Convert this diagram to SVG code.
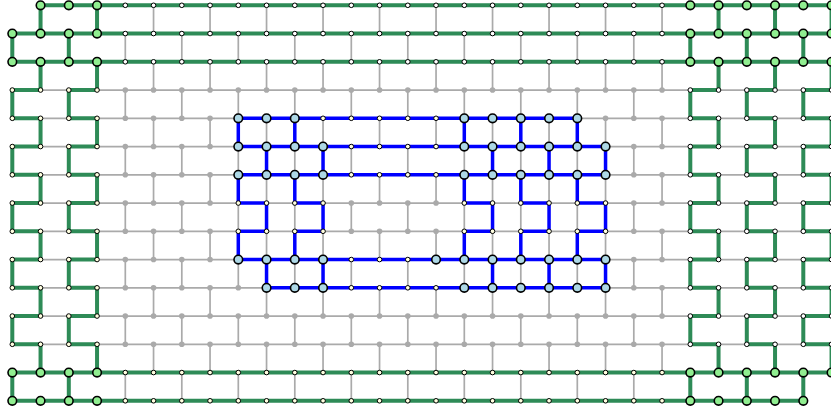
<svg xmlns="http://www.w3.org/2000/svg" width="831" height="415" viewBox="0 0 831 415">
<style>
.gh{fill:none;stroke:#aaaaaa;stroke-width:1.7}
.gv{stroke:#aaaaaa;stroke-width:1.7;stroke-dasharray:28.25}
.eh{fill:none;stroke:#2e8b57;stroke-width:4}
.ev{stroke:#2e8b57;stroke-width:4;stroke-dasharray:28.25}
.bh{fill:none;stroke:#0000ff;stroke-width:3.5}
.bv{stroke:#0000ff;stroke-width:3.5;stroke-dasharray:28.25}
</style>
<defs>
<circle id="W" r="2.3" fill="#ffffff" stroke="#000" stroke-width="1"/>
<circle id="C" r="2.3" fill="#ffffe0" stroke="#000" stroke-width="1"/>
<circle id="D" r="2.8" fill="#aaaaaa"/>
<circle id="G" r="4.3" fill="#90ee90" stroke="#000" stroke-width="1.6"/>
<circle id="B" r="4.3" fill="#add8e6" stroke="#000" stroke-width="1.6"/>
</defs>
<rect width="831" height="415" fill="#fff"/>
<g id="connectors">
<path class="gh" d="M12.3 90.05H831.55M12.3 118.3H831.55M12.3 146.55H831.55M12.3 174.8H831.55M12.3 203.05H831.55M12.3 231.3H831.55M12.3 259.55H831.55M12.3 287.8H831.55M12.3 316.05H831.55M12.3 344.3H831.55"/>
<line class="gv" x1="40.55" y1="5.3" x2="40.55" y2="400.8"/>
<line class="gv" x1="97.05" y1="5.3" x2="97.05" y2="400.8"/>
<line class="gv" x1="153.55" y1="5.3" x2="153.55" y2="400.8"/>
<line class="gv" x1="210.05" y1="5.3" x2="210.05" y2="400.8"/>
<line class="gv" x1="266.55" y1="5.3" x2="266.55" y2="400.8"/>
<line class="gv" x1="323.05" y1="5.3" x2="323.05" y2="400.8"/>
<line class="gv" x1="379.55" y1="5.3" x2="379.55" y2="400.8"/>
<line class="gv" x1="436.05" y1="5.3" x2="436.05" y2="400.8"/>
<line class="gv" x1="492.55" y1="5.3" x2="492.55" y2="400.8"/>
<line class="gv" x1="549.05" y1="5.3" x2="549.05" y2="400.8"/>
<line class="gv" x1="605.55" y1="5.3" x2="605.55" y2="400.8"/>
<line class="gv" x1="662.05" y1="5.3" x2="662.05" y2="400.8"/>
<line class="gv" x1="718.55" y1="5.3" x2="718.55" y2="400.8"/>
<line class="gv" x1="775.05" y1="5.3" x2="775.05" y2="400.8"/>
<line class="gv" x1="831.55" y1="5.3" x2="831.55" y2="400.8"/>
<line class="gv" x1="12.3" y1="33.55" x2="12.3" y2="400.8"/>
<line class="gv" x1="68.8" y1="33.55" x2="68.8" y2="400.8"/>
<line class="gv" x1="125.3" y1="33.55" x2="125.3" y2="400.8"/>
<line class="gv" x1="181.8" y1="33.55" x2="181.8" y2="400.8"/>
<line class="gv" x1="238.3" y1="33.55" x2="238.3" y2="400.8"/>
<line class="gv" x1="294.8" y1="33.55" x2="294.8" y2="400.8"/>
<line class="gv" x1="351.3" y1="33.55" x2="351.3" y2="400.8"/>
<line class="gv" x1="407.8" y1="33.55" x2="407.8" y2="400.8"/>
<line class="gv" x1="464.3" y1="33.55" x2="464.3" y2="400.8"/>
<line class="gv" x1="520.8" y1="33.55" x2="520.8" y2="400.8"/>
<line class="gv" x1="577.3" y1="33.55" x2="577.3" y2="400.8"/>
<line class="gv" x1="633.8" y1="33.55" x2="633.8" y2="400.8"/>
<line class="gv" x1="690.3" y1="33.55" x2="690.3" y2="400.8"/>
<line class="gv" x1="746.8" y1="33.55" x2="746.8" y2="400.8"/>
<line class="gv" x1="803.3" y1="33.55" x2="803.3" y2="400.8"/>
<path class="eh" d="M40.55 5.3H831.55M12.3 33.55H831.55M12.3 61.8H831.55M12.3 372.55H831.55M12.3 400.8H803.3
M12.3 90.05H40.55M68.8 90.05H97.05M690.3 90.05H718.55M746.8 90.05H775.05M803.3 90.05H831.55
M12.3 118.3H40.55M68.8 118.3H97.05M690.3 118.3H718.55M746.8 118.3H775.05M803.3 118.3H831.55
M12.3 146.55H40.55M68.8 146.55H97.05M690.3 146.55H718.55M746.8 146.55H775.05M803.3 146.55H831.55
M12.3 174.8H40.55M68.8 174.8H97.05M690.3 174.8H718.55M746.8 174.8H775.05M803.3 174.8H831.55
M12.3 203.05H40.55M68.8 203.05H97.05M690.3 203.05H718.55M746.8 203.05H775.05M803.3 203.05H831.55
M12.3 231.3H40.55M68.8 231.3H97.05M690.3 231.3H718.55M746.8 231.3H775.05M803.3 231.3H831.55
M12.3 259.55H40.55M68.8 259.55H97.05M690.3 259.55H718.55M746.8 259.55H775.05M803.3 259.55H831.55
M12.3 287.8H40.55M68.8 287.8H97.05M690.3 287.8H718.55M746.8 287.8H775.05M803.3 287.8H831.55
M12.3 316.05H40.55M68.8 316.05H97.05M690.3 316.05H718.55M746.8 316.05H775.05M803.3 316.05H831.55
M12.3 344.3H40.55M68.8 344.3H97.05M690.3 344.3H718.55M746.8 344.3H775.05M803.3 344.3H831.55"/>
<line class="ev" x1="40.55" y1="5.3" x2="40.55" y2="400.8"/>
<line class="ev" x1="97.05" y1="5.3" x2="97.05" y2="400.8"/>
<line class="ev" x1="718.55" y1="5.3" x2="718.55" y2="400.8"/>
<line class="ev" x1="775.05" y1="5.3" x2="775.05" y2="400.8"/>
<line class="ev" x1="831.55" y1="5.3" x2="831.55" y2="400.8"/>
<line class="ev" x1="12.3" y1="33.55" x2="12.3" y2="400.8"/>
<line class="ev" x1="68.8" y1="33.55" x2="68.8" y2="400.8"/>
<line class="ev" x1="690.3" y1="33.55" x2="690.3" y2="400.8"/>
<line class="ev" x1="746.8" y1="33.55" x2="746.8" y2="400.8"/>
<line class="ev" x1="803.3" y1="33.55" x2="803.3" y2="400.8"/>
<path class="bh" d="M238.3 118.3H577.3M238.3 146.55H605.55M238.3 174.8H605.55M238.3 259.55H605.55M266.55 287.8H605.55
M238.3 203.05H266.55M294.8 203.05H323.05M464.3 203.05H492.55M520.8 203.05H549.05M577.3 203.05H605.55
M238.3 231.3H266.55M294.8 231.3H323.05M464.3 231.3H492.55M520.8 231.3H549.05M577.3 231.3H605.55"/>
<line class="bv" x1="238.3" y1="118.3" x2="238.3" y2="259.55"/>
<line class="bv" x1="294.8" y1="118.3" x2="294.8" y2="259.55"/>
<line class="bv" x1="464.3" y1="118.3" x2="464.3" y2="259.55"/>
<line class="bv" x1="520.8" y1="118.3" x2="520.8" y2="259.55"/>
<line class="bv" x1="577.3" y1="118.3" x2="577.3" y2="259.55"/>
<line class="bv" x1="266.55" y1="146.55" x2="266.55" y2="287.8"/>
<line class="bv" x1="323.05" y1="146.55" x2="323.05" y2="287.8"/>
<line class="bv" x1="492.55" y1="146.55" x2="492.55" y2="287.8"/>
<line class="bv" x1="549.05" y1="146.55" x2="549.05" y2="287.8"/>
<line class="bv" x1="605.55" y1="146.55" x2="605.55" y2="287.8"/>
</g>
<g id="nodes">
<g id="n0-1"><use href="#G" x="40.55" y="5.3"/></g>
<g id="n0-2"><use href="#G" x="68.8" y="5.3"/></g>
<g id="n0-3"><use href="#G" x="97.05" y="5.3"/></g>
<g id="n0-4"><use href="#W" x="125.3" y="5.3"/></g>
<g id="n0-5"><use href="#W" x="153.55" y="5.3"/></g>
<g id="n0-6"><use href="#W" x="181.8" y="5.3"/></g>
<g id="n0-7"><use href="#W" x="210.05" y="5.3"/></g>
<g id="n0-8"><use href="#W" x="238.3" y="5.3"/></g>
<g id="n0-9"><use href="#W" x="266.55" y="5.3"/></g>
<g id="n0-10"><use href="#W" x="294.8" y="5.3"/></g>
<g id="n0-11"><use href="#W" x="323.05" y="5.3"/></g>
<g id="n0-12"><use href="#W" x="351.3" y="5.3"/></g>
<g id="n0-13"><use href="#W" x="379.55" y="5.3"/></g>
<g id="n0-14"><use href="#W" x="407.8" y="5.3"/></g>
<g id="n0-15"><use href="#W" x="436.05" y="5.3"/></g>
<g id="n0-16"><use href="#W" x="464.3" y="5.3"/></g>
<g id="n0-17"><use href="#W" x="492.55" y="5.3"/></g>
<g id="n0-18"><use href="#W" x="520.8" y="5.3"/></g>
<g id="n0-19"><use href="#W" x="549.05" y="5.3"/></g>
<g id="n0-20"><use href="#W" x="577.3" y="5.3"/></g>
<g id="n0-21"><use href="#W" x="605.55" y="5.3"/></g>
<g id="n0-22"><use href="#W" x="633.8" y="5.3"/></g>
<g id="n0-23"><use href="#W" x="662.05" y="5.3"/></g>
<g id="n0-24"><use href="#G" x="690.3" y="5.3"/></g>
<g id="n0-25"><use href="#G" x="718.55" y="5.3"/></g>
<g id="n0-26"><use href="#G" x="746.8" y="5.3"/></g>
<g id="n0-27"><use href="#G" x="775.05" y="5.3"/></g>
<g id="n0-28"><use href="#G" x="803.3" y="5.3"/></g>
<g id="n0-29"><use href="#G" x="831.55" y="5.3"/></g>
<g id="n1-0"><use href="#G" x="12.3" y="33.55"/></g>
<g id="n1-1"><use href="#G" x="40.55" y="33.55"/></g>
<g id="n1-2"><use href="#G" x="68.8" y="33.55"/></g>
<g id="n1-3"><use href="#G" x="97.05" y="33.55"/></g>
<g id="n1-4"><use href="#W" x="125.3" y="33.55"/></g>
<g id="n1-5"><use href="#W" x="153.55" y="33.55"/></g>
<g id="n1-6"><use href="#W" x="181.8" y="33.55"/></g>
<g id="n1-7"><use href="#W" x="210.05" y="33.55"/></g>
<g id="n1-8"><use href="#W" x="238.3" y="33.55"/></g>
<g id="n1-9"><use href="#W" x="266.55" y="33.55"/></g>
<g id="n1-10"><use href="#W" x="294.8" y="33.55"/></g>
<g id="n1-11"><use href="#W" x="323.05" y="33.55"/></g>
<g id="n1-12"><use href="#W" x="351.3" y="33.55"/></g>
<g id="n1-13"><use href="#W" x="379.55" y="33.55"/></g>
<g id="n1-14"><use href="#W" x="407.8" y="33.55"/></g>
<g id="n1-15"><use href="#W" x="436.05" y="33.55"/></g>
<g id="n1-16"><use href="#W" x="464.3" y="33.55"/></g>
<g id="n1-17"><use href="#W" x="492.55" y="33.55"/></g>
<g id="n1-18"><use href="#W" x="520.8" y="33.55"/></g>
<g id="n1-19"><use href="#W" x="549.05" y="33.55"/></g>
<g id="n1-20"><use href="#W" x="577.3" y="33.55"/></g>
<g id="n1-21"><use href="#W" x="605.55" y="33.55"/></g>
<g id="n1-22"><use href="#W" x="633.8" y="33.55"/></g>
<g id="n1-23"><use href="#W" x="662.05" y="33.55"/></g>
<g id="n1-24"><use href="#G" x="690.3" y="33.55"/></g>
<g id="n1-25"><use href="#G" x="718.55" y="33.55"/></g>
<g id="n1-26"><use href="#G" x="746.8" y="33.55"/></g>
<g id="n1-27"><use href="#G" x="775.05" y="33.55"/></g>
<g id="n1-28"><use href="#G" x="803.3" y="33.55"/></g>
<g id="n1-29"><use href="#G" x="831.55" y="33.55"/></g>
<g id="n2-0"><use href="#G" x="12.3" y="61.8"/></g>
<g id="n2-1"><use href="#G" x="40.55" y="61.8"/></g>
<g id="n2-2"><use href="#G" x="68.8" y="61.8"/></g>
<g id="n2-3"><use href="#G" x="97.05" y="61.8"/></g>
<g id="n2-4"><use href="#W" x="125.3" y="61.8"/></g>
<g id="n2-5"><use href="#W" x="153.55" y="61.8"/></g>
<g id="n2-6"><use href="#W" x="181.8" y="61.8"/></g>
<g id="n2-7"><use href="#W" x="210.05" y="61.8"/></g>
<g id="n2-8"><use href="#W" x="238.3" y="61.8"/></g>
<g id="n2-9"><use href="#W" x="266.55" y="61.8"/></g>
<g id="n2-10"><use href="#W" x="294.8" y="61.8"/></g>
<g id="n2-11"><use href="#W" x="323.05" y="61.8"/></g>
<g id="n2-12"><use href="#W" x="351.3" y="61.8"/></g>
<g id="n2-13"><use href="#W" x="379.55" y="61.8"/></g>
<g id="n2-14"><use href="#W" x="407.8" y="61.8"/></g>
<g id="n2-15"><use href="#W" x="436.05" y="61.8"/></g>
<g id="n2-16"><use href="#W" x="464.3" y="61.8"/></g>
<g id="n2-17"><use href="#W" x="492.55" y="61.8"/></g>
<g id="n2-18"><use href="#W" x="520.8" y="61.8"/></g>
<g id="n2-19"><use href="#W" x="549.05" y="61.8"/></g>
<g id="n2-20"><use href="#W" x="577.3" y="61.8"/></g>
<g id="n2-21"><use href="#W" x="605.55" y="61.8"/></g>
<g id="n2-22"><use href="#W" x="633.8" y="61.8"/></g>
<g id="n2-23"><use href="#W" x="662.05" y="61.8"/></g>
<g id="n2-24"><use href="#G" x="690.3" y="61.8"/></g>
<g id="n2-25"><use href="#G" x="718.55" y="61.8"/></g>
<g id="n2-26"><use href="#G" x="746.8" y="61.8"/></g>
<g id="n2-27"><use href="#G" x="775.05" y="61.8"/></g>
<g id="n2-28"><use href="#G" x="803.3" y="61.8"/></g>
<g id="n2-29"><use href="#G" x="831.55" y="61.8"/></g>
<g id="n3-0"><use href="#C" x="12.3" y="90.05"/></g>
<g id="n3-1"><use href="#C" x="40.55" y="90.05"/></g>
<g id="n3-2"><use href="#C" x="68.8" y="90.05"/></g>
<g id="n3-3"><use href="#C" x="97.05" y="90.05"/></g>
<g id="n3-4"><use href="#D" x="125.3" y="90.05"/></g>
<g id="n3-5"><use href="#D" x="153.55" y="90.05"/></g>
<g id="n3-6"><use href="#D" x="181.8" y="90.05"/></g>
<g id="n3-7"><use href="#D" x="210.05" y="90.05"/></g>
<g id="n3-8"><use href="#D" x="238.3" y="90.05"/></g>
<g id="n3-9"><use href="#D" x="266.55" y="90.05"/></g>
<g id="n3-10"><use href="#D" x="294.8" y="90.05"/></g>
<g id="n3-11"><use href="#D" x="323.05" y="90.05"/></g>
<g id="n3-12"><use href="#D" x="351.3" y="90.05"/></g>
<g id="n3-13"><use href="#D" x="379.55" y="90.05"/></g>
<g id="n3-14"><use href="#D" x="407.8" y="90.05"/></g>
<g id="n3-15"><use href="#D" x="436.05" y="90.05"/></g>
<g id="n3-16"><use href="#D" x="464.3" y="90.05"/></g>
<g id="n3-17"><use href="#D" x="492.55" y="90.05"/></g>
<g id="n3-18"><use href="#D" x="520.8" y="90.05"/></g>
<g id="n3-19"><use href="#D" x="549.05" y="90.05"/></g>
<g id="n3-20"><use href="#D" x="577.3" y="90.05"/></g>
<g id="n3-21"><use href="#D" x="605.55" y="90.05"/></g>
<g id="n3-22"><use href="#D" x="633.8" y="90.05"/></g>
<g id="n3-23"><use href="#D" x="662.05" y="90.05"/></g>
<g id="n3-24"><use href="#W" x="690.3" y="90.05"/></g>
<g id="n3-25"><use href="#W" x="718.55" y="90.05"/></g>
<g id="n3-26"><use href="#W" x="746.8" y="90.05"/></g>
<g id="n3-27"><use href="#W" x="775.05" y="90.05"/></g>
<g id="n3-28"><use href="#W" x="803.3" y="90.05"/></g>
<g id="n3-29"><use href="#W" x="831.55" y="90.05"/></g>
<g id="n4-0"><use href="#C" x="12.3" y="118.3"/></g>
<g id="n4-1"><use href="#C" x="40.55" y="118.3"/></g>
<g id="n4-2"><use href="#C" x="68.8" y="118.3"/></g>
<g id="n4-3"><use href="#C" x="97.05" y="118.3"/></g>
<g id="n4-4"><use href="#D" x="125.3" y="118.3"/></g>
<g id="n4-5"><use href="#D" x="153.55" y="118.3"/></g>
<g id="n4-6"><use href="#D" x="181.8" y="118.3"/></g>
<g id="n4-7"><use href="#D" x="210.05" y="118.3"/></g>
<g id="n4-8"><use href="#B" x="238.3" y="118.3"/></g>
<g id="n4-9"><use href="#B" x="266.55" y="118.3"/></g>
<g id="n4-10"><use href="#B" x="294.8" y="118.3"/></g>
<g id="n4-11"><use href="#C" x="323.05" y="118.3"/></g>
<g id="n4-12"><use href="#C" x="351.3" y="118.3"/></g>
<g id="n4-13"><use href="#C" x="379.55" y="118.3"/></g>
<g id="n4-14"><use href="#C" x="407.8" y="118.3"/></g>
<g id="n4-15"><use href="#C" x="436.05" y="118.3"/></g>
<g id="n4-16"><use href="#B" x="464.3" y="118.3"/></g>
<g id="n4-17"><use href="#B" x="492.55" y="118.3"/></g>
<g id="n4-18"><use href="#B" x="520.8" y="118.3"/></g>
<g id="n4-19"><use href="#B" x="549.05" y="118.3"/></g>
<g id="n4-20"><use href="#B" x="577.3" y="118.3"/></g>
<g id="n4-21"><use href="#D" x="605.55" y="118.3"/></g>
<g id="n4-22"><use href="#D" x="633.8" y="118.3"/></g>
<g id="n4-23"><use href="#D" x="662.05" y="118.3"/></g>
<g id="n4-24"><use href="#W" x="690.3" y="118.3"/></g>
<g id="n4-25"><use href="#W" x="718.55" y="118.3"/></g>
<g id="n4-26"><use href="#W" x="746.8" y="118.3"/></g>
<g id="n4-27"><use href="#W" x="775.05" y="118.3"/></g>
<g id="n4-28"><use href="#W" x="803.3" y="118.3"/></g>
<g id="n4-29"><use href="#W" x="831.55" y="118.3"/></g>
<g id="n5-0"><use href="#C" x="12.3" y="146.55"/></g>
<g id="n5-1"><use href="#C" x="40.55" y="146.55"/></g>
<g id="n5-2"><use href="#C" x="68.8" y="146.55"/></g>
<g id="n5-3"><use href="#C" x="97.05" y="146.55"/></g>
<g id="n5-4"><use href="#D" x="125.3" y="146.55"/></g>
<g id="n5-5"><use href="#D" x="153.55" y="146.55"/></g>
<g id="n5-6"><use href="#D" x="181.8" y="146.55"/></g>
<g id="n5-7"><use href="#D" x="210.05" y="146.55"/></g>
<g id="n5-8"><use href="#B" x="238.3" y="146.55"/></g>
<g id="n5-9"><use href="#B" x="266.55" y="146.55"/></g>
<g id="n5-10"><use href="#B" x="294.8" y="146.55"/></g>
<g id="n5-11"><use href="#B" x="323.05" y="146.55"/></g>
<g id="n5-12"><use href="#C" x="351.3" y="146.55"/></g>
<g id="n5-13"><use href="#C" x="379.55" y="146.55"/></g>
<g id="n5-14"><use href="#C" x="407.8" y="146.55"/></g>
<g id="n5-15"><use href="#C" x="436.05" y="146.55"/></g>
<g id="n5-16"><use href="#B" x="464.3" y="146.55"/></g>
<g id="n5-17"><use href="#B" x="492.55" y="146.55"/></g>
<g id="n5-18"><use href="#B" x="520.8" y="146.55"/></g>
<g id="n5-19"><use href="#B" x="549.05" y="146.55"/></g>
<g id="n5-20"><use href="#B" x="577.3" y="146.55"/></g>
<g id="n5-21"><use href="#B" x="605.55" y="146.55"/></g>
<g id="n5-22"><use href="#D" x="633.8" y="146.55"/></g>
<g id="n5-23"><use href="#D" x="662.05" y="146.55"/></g>
<g id="n5-24"><use href="#W" x="690.3" y="146.55"/></g>
<g id="n5-25"><use href="#W" x="718.55" y="146.55"/></g>
<g id="n5-26"><use href="#W" x="746.8" y="146.55"/></g>
<g id="n5-27"><use href="#W" x="775.05" y="146.55"/></g>
<g id="n5-28"><use href="#W" x="803.3" y="146.55"/></g>
<g id="n5-29"><use href="#W" x="831.55" y="146.55"/></g>
<g id="n6-0"><use href="#C" x="12.3" y="174.8"/></g>
<g id="n6-1"><use href="#C" x="40.55" y="174.8"/></g>
<g id="n6-2"><use href="#C" x="68.8" y="174.8"/></g>
<g id="n6-3"><use href="#C" x="97.05" y="174.8"/></g>
<g id="n6-4"><use href="#D" x="125.3" y="174.8"/></g>
<g id="n6-5"><use href="#D" x="153.55" y="174.8"/></g>
<g id="n6-6"><use href="#D" x="181.8" y="174.8"/></g>
<g id="n6-7"><use href="#D" x="210.05" y="174.8"/></g>
<g id="n6-8"><use href="#B" x="238.3" y="174.8"/></g>
<g id="n6-9"><use href="#B" x="266.55" y="174.8"/></g>
<g id="n6-10"><use href="#B" x="294.8" y="174.8"/></g>
<g id="n6-11"><use href="#B" x="323.05" y="174.8"/></g>
<g id="n6-12"><use href="#C" x="351.3" y="174.8"/></g>
<g id="n6-13"><use href="#C" x="379.55" y="174.8"/></g>
<g id="n6-14"><use href="#C" x="407.8" y="174.8"/></g>
<g id="n6-15"><use href="#C" x="436.05" y="174.8"/></g>
<g id="n6-16"><use href="#B" x="464.3" y="174.8"/></g>
<g id="n6-17"><use href="#B" x="492.55" y="174.8"/></g>
<g id="n6-18"><use href="#B" x="520.8" y="174.8"/></g>
<g id="n6-19"><use href="#B" x="549.05" y="174.8"/></g>
<g id="n6-20"><use href="#B" x="577.3" y="174.8"/></g>
<g id="n6-21"><use href="#B" x="605.55" y="174.8"/></g>
<g id="n6-22"><use href="#D" x="633.8" y="174.8"/></g>
<g id="n6-23"><use href="#D" x="662.05" y="174.8"/></g>
<g id="n6-24"><use href="#W" x="690.3" y="174.8"/></g>
<g id="n6-25"><use href="#W" x="718.55" y="174.8"/></g>
<g id="n6-26"><use href="#W" x="746.8" y="174.8"/></g>
<g id="n6-27"><use href="#W" x="775.05" y="174.8"/></g>
<g id="n6-28"><use href="#W" x="803.3" y="174.8"/></g>
<g id="n6-29"><use href="#W" x="831.55" y="174.8"/></g>
<g id="n7-0"><use href="#C" x="12.3" y="203.05"/></g>
<g id="n7-1"><use href="#C" x="40.55" y="203.05"/></g>
<g id="n7-2"><use href="#C" x="68.8" y="203.05"/></g>
<g id="n7-3"><use href="#C" x="97.05" y="203.05"/></g>
<g id="n7-4"><use href="#D" x="125.3" y="203.05"/></g>
<g id="n7-5"><use href="#D" x="153.55" y="203.05"/></g>
<g id="n7-6"><use href="#D" x="181.8" y="203.05"/></g>
<g id="n7-7"><use href="#D" x="210.05" y="203.05"/></g>
<g id="n7-8"><use href="#C" x="238.3" y="203.05"/></g>
<g id="n7-9"><use href="#C" x="266.55" y="203.05"/></g>
<g id="n7-10"><use href="#C" x="294.8" y="203.05"/></g>
<g id="n7-11"><use href="#C" x="323.05" y="203.05"/></g>
<g id="n7-12"><use href="#D" x="351.3" y="203.05"/></g>
<g id="n7-13"><use href="#D" x="379.55" y="203.05"/></g>
<g id="n7-14"><use href="#D" x="407.8" y="203.05"/></g>
<g id="n7-15"><use href="#D" x="436.05" y="203.05"/></g>
<g id="n7-16"><use href="#C" x="464.3" y="203.05"/></g>
<g id="n7-17"><use href="#C" x="492.55" y="203.05"/></g>
<g id="n7-18"><use href="#C" x="520.8" y="203.05"/></g>
<g id="n7-19"><use href="#C" x="549.05" y="203.05"/></g>
<g id="n7-20"><use href="#C" x="577.3" y="203.05"/></g>
<g id="n7-21"><use href="#C" x="605.55" y="203.05"/></g>
<g id="n7-22"><use href="#D" x="633.8" y="203.05"/></g>
<g id="n7-23"><use href="#D" x="662.05" y="203.05"/></g>
<g id="n7-24"><use href="#W" x="690.3" y="203.05"/></g>
<g id="n7-25"><use href="#W" x="718.55" y="203.05"/></g>
<g id="n7-26"><use href="#W" x="746.8" y="203.05"/></g>
<g id="n7-27"><use href="#W" x="775.05" y="203.05"/></g>
<g id="n7-28"><use href="#W" x="803.3" y="203.05"/></g>
<g id="n7-29"><use href="#W" x="831.55" y="203.05"/></g>
<g id="n8-0"><use href="#C" x="12.3" y="231.3"/></g>
<g id="n8-1"><use href="#C" x="40.55" y="231.3"/></g>
<g id="n8-2"><use href="#C" x="68.8" y="231.3"/></g>
<g id="n8-3"><use href="#C" x="97.05" y="231.3"/></g>
<g id="n8-4"><use href="#D" x="125.3" y="231.3"/></g>
<g id="n8-5"><use href="#D" x="153.55" y="231.3"/></g>
<g id="n8-6"><use href="#D" x="181.8" y="231.3"/></g>
<g id="n8-7"><use href="#D" x="210.05" y="231.3"/></g>
<g id="n8-8"><use href="#C" x="238.3" y="231.3"/></g>
<g id="n8-9"><use href="#C" x="266.55" y="231.3"/></g>
<g id="n8-10"><use href="#C" x="294.8" y="231.3"/></g>
<g id="n8-11"><use href="#C" x="323.05" y="231.3"/></g>
<g id="n8-12"><use href="#D" x="351.3" y="231.3"/></g>
<g id="n8-13"><use href="#D" x="379.55" y="231.3"/></g>
<g id="n8-14"><use href="#D" x="407.8" y="231.3"/></g>
<g id="n8-15"><use href="#D" x="436.05" y="231.3"/></g>
<g id="n8-16"><use href="#C" x="464.3" y="231.3"/></g>
<g id="n8-17"><use href="#C" x="492.55" y="231.3"/></g>
<g id="n8-18"><use href="#C" x="520.8" y="231.3"/></g>
<g id="n8-19"><use href="#C" x="549.05" y="231.3"/></g>
<g id="n8-20"><use href="#C" x="577.3" y="231.3"/></g>
<g id="n8-21"><use href="#C" x="605.55" y="231.3"/></g>
<g id="n8-22"><use href="#D" x="633.8" y="231.3"/></g>
<g id="n8-23"><use href="#D" x="662.05" y="231.3"/></g>
<g id="n8-24"><use href="#W" x="690.3" y="231.3"/></g>
<g id="n8-25"><use href="#W" x="718.55" y="231.3"/></g>
<g id="n8-26"><use href="#W" x="746.8" y="231.3"/></g>
<g id="n8-27"><use href="#W" x="775.05" y="231.3"/></g>
<g id="n8-28"><use href="#W" x="803.3" y="231.3"/></g>
<g id="n8-29"><use href="#W" x="831.55" y="231.3"/></g>
<g id="n9-0"><use href="#C" x="12.3" y="259.55"/></g>
<g id="n9-1"><use href="#C" x="40.55" y="259.55"/></g>
<g id="n9-2"><use href="#C" x="68.8" y="259.55"/></g>
<g id="n9-3"><use href="#C" x="97.05" y="259.55"/></g>
<g id="n9-4"><use href="#D" x="125.3" y="259.55"/></g>
<g id="n9-5"><use href="#D" x="153.55" y="259.55"/></g>
<g id="n9-6"><use href="#D" x="181.8" y="259.55"/></g>
<g id="n9-7"><use href="#D" x="210.05" y="259.55"/></g>
<g id="n9-8"><use href="#B" x="238.3" y="259.55"/></g>
<g id="n9-9"><use href="#B" x="266.55" y="259.55"/></g>
<g id="n9-10"><use href="#B" x="294.8" y="259.55"/></g>
<g id="n9-11"><use href="#B" x="323.05" y="259.55"/></g>
<g id="n9-12"><use href="#C" x="351.3" y="259.55"/></g>
<g id="n9-13"><use href="#C" x="379.55" y="259.55"/></g>
<g id="n9-14"><use href="#C" x="407.8" y="259.55"/></g>
<g id="n9-15"><use href="#B" x="436.05" y="259.55"/></g>
<g id="n9-16"><use href="#B" x="464.3" y="259.55"/></g>
<g id="n9-17"><use href="#B" x="492.55" y="259.55"/></g>
<g id="n9-18"><use href="#B" x="520.8" y="259.55"/></g>
<g id="n9-19"><use href="#B" x="549.05" y="259.55"/></g>
<g id="n9-20"><use href="#B" x="577.3" y="259.55"/></g>
<g id="n9-21"><use href="#B" x="605.55" y="259.55"/></g>
<g id="n9-22"><use href="#D" x="633.8" y="259.55"/></g>
<g id="n9-23"><use href="#D" x="662.05" y="259.55"/></g>
<g id="n9-24"><use href="#W" x="690.3" y="259.55"/></g>
<g id="n9-25"><use href="#W" x="718.55" y="259.55"/></g>
<g id="n9-26"><use href="#W" x="746.8" y="259.55"/></g>
<g id="n9-27"><use href="#W" x="775.05" y="259.55"/></g>
<g id="n9-28"><use href="#W" x="803.3" y="259.55"/></g>
<g id="n9-29"><use href="#W" x="831.55" y="259.55"/></g>
<g id="n10-0"><use href="#C" x="12.3" y="287.8"/></g>
<g id="n10-1"><use href="#C" x="40.55" y="287.8"/></g>
<g id="n10-2"><use href="#C" x="68.8" y="287.8"/></g>
<g id="n10-3"><use href="#C" x="97.05" y="287.8"/></g>
<g id="n10-4"><use href="#D" x="125.3" y="287.8"/></g>
<g id="n10-5"><use href="#D" x="153.55" y="287.8"/></g>
<g id="n10-6"><use href="#D" x="181.8" y="287.8"/></g>
<g id="n10-7"><use href="#D" x="210.05" y="287.8"/></g>
<g id="n10-8"><use href="#D" x="238.3" y="287.8"/></g>
<g id="n10-9"><use href="#B" x="266.55" y="287.8"/></g>
<g id="n10-10"><use href="#B" x="294.8" y="287.8"/></g>
<g id="n10-11"><use href="#B" x="323.05" y="287.8"/></g>
<g id="n10-12"><use href="#C" x="351.3" y="287.8"/></g>
<g id="n10-13"><use href="#C" x="379.55" y="287.8"/></g>
<g id="n10-14"><use href="#C" x="407.8" y="287.8"/></g>
<g id="n10-15"><use href="#C" x="436.05" y="287.8"/></g>
<g id="n10-16"><use href="#B" x="464.3" y="287.8"/></g>
<g id="n10-17"><use href="#B" x="492.55" y="287.8"/></g>
<g id="n10-18"><use href="#B" x="520.8" y="287.8"/></g>
<g id="n10-19"><use href="#B" x="549.05" y="287.8"/></g>
<g id="n10-20"><use href="#B" x="577.3" y="287.8"/></g>
<g id="n10-21"><use href="#B" x="605.55" y="287.8"/></g>
<g id="n10-22"><use href="#D" x="633.8" y="287.8"/></g>
<g id="n10-23"><use href="#D" x="662.05" y="287.8"/></g>
<g id="n10-24"><use href="#W" x="690.3" y="287.8"/></g>
<g id="n10-25"><use href="#W" x="718.55" y="287.8"/></g>
<g id="n10-26"><use href="#W" x="746.8" y="287.8"/></g>
<g id="n10-27"><use href="#W" x="775.05" y="287.8"/></g>
<g id="n10-28"><use href="#W" x="803.3" y="287.8"/></g>
<g id="n10-29"><use href="#W" x="831.55" y="287.8"/></g>
<g id="n11-0"><use href="#C" x="12.3" y="316.05"/></g>
<g id="n11-1"><use href="#C" x="40.55" y="316.05"/></g>
<g id="n11-2"><use href="#C" x="68.8" y="316.05"/></g>
<g id="n11-3"><use href="#C" x="97.05" y="316.05"/></g>
<g id="n11-4"><use href="#D" x="125.3" y="316.05"/></g>
<g id="n11-5"><use href="#D" x="153.55" y="316.05"/></g>
<g id="n11-6"><use href="#D" x="181.8" y="316.05"/></g>
<g id="n11-7"><use href="#D" x="210.05" y="316.05"/></g>
<g id="n11-8"><use href="#D" x="238.3" y="316.05"/></g>
<g id="n11-9"><use href="#D" x="266.55" y="316.05"/></g>
<g id="n11-10"><use href="#D" x="294.8" y="316.05"/></g>
<g id="n11-11"><use href="#D" x="323.05" y="316.05"/></g>
<g id="n11-12"><use href="#D" x="351.3" y="316.05"/></g>
<g id="n11-13"><use href="#D" x="379.55" y="316.05"/></g>
<g id="n11-14"><use href="#D" x="407.8" y="316.05"/></g>
<g id="n11-15"><use href="#D" x="436.05" y="316.05"/></g>
<g id="n11-16"><use href="#D" x="464.3" y="316.05"/></g>
<g id="n11-17"><use href="#D" x="492.55" y="316.05"/></g>
<g id="n11-18"><use href="#D" x="520.8" y="316.05"/></g>
<g id="n11-19"><use href="#D" x="549.05" y="316.05"/></g>
<g id="n11-20"><use href="#D" x="577.3" y="316.05"/></g>
<g id="n11-21"><use href="#D" x="605.55" y="316.05"/></g>
<g id="n11-22"><use href="#D" x="633.8" y="316.05"/></g>
<g id="n11-23"><use href="#D" x="662.05" y="316.05"/></g>
<g id="n11-24"><use href="#W" x="690.3" y="316.05"/></g>
<g id="n11-25"><use href="#W" x="718.55" y="316.05"/></g>
<g id="n11-26"><use href="#W" x="746.8" y="316.05"/></g>
<g id="n11-27"><use href="#W" x="775.05" y="316.05"/></g>
<g id="n11-28"><use href="#W" x="803.3" y="316.05"/></g>
<g id="n11-29"><use href="#W" x="831.55" y="316.05"/></g>
<g id="n12-0"><use href="#C" x="12.3" y="344.3"/></g>
<g id="n12-1"><use href="#C" x="40.55" y="344.3"/></g>
<g id="n12-2"><use href="#C" x="68.8" y="344.3"/></g>
<g id="n12-3"><use href="#C" x="97.05" y="344.3"/></g>
<g id="n12-4"><use href="#D" x="125.3" y="344.3"/></g>
<g id="n12-5"><use href="#D" x="153.55" y="344.3"/></g>
<g id="n12-6"><use href="#D" x="181.8" y="344.3"/></g>
<g id="n12-7"><use href="#D" x="210.05" y="344.3"/></g>
<g id="n12-8"><use href="#D" x="238.3" y="344.3"/></g>
<g id="n12-9"><use href="#D" x="266.55" y="344.3"/></g>
<g id="n12-10"><use href="#D" x="294.8" y="344.3"/></g>
<g id="n12-11"><use href="#D" x="323.05" y="344.3"/></g>
<g id="n12-12"><use href="#D" x="351.3" y="344.3"/></g>
<g id="n12-13"><use href="#D" x="379.55" y="344.3"/></g>
<g id="n12-14"><use href="#D" x="407.8" y="344.3"/></g>
<g id="n12-15"><use href="#D" x="436.05" y="344.3"/></g>
<g id="n12-16"><use href="#D" x="464.3" y="344.3"/></g>
<g id="n12-17"><use href="#D" x="492.55" y="344.3"/></g>
<g id="n12-18"><use href="#D" x="520.8" y="344.3"/></g>
<g id="n12-19"><use href="#D" x="549.05" y="344.3"/></g>
<g id="n12-20"><use href="#D" x="577.3" y="344.3"/></g>
<g id="n12-21"><use href="#D" x="605.55" y="344.3"/></g>
<g id="n12-22"><use href="#D" x="633.8" y="344.3"/></g>
<g id="n12-23"><use href="#D" x="662.05" y="344.3"/></g>
<g id="n12-24"><use href="#W" x="690.3" y="344.3"/></g>
<g id="n12-25"><use href="#W" x="718.55" y="344.3"/></g>
<g id="n12-26"><use href="#W" x="746.8" y="344.3"/></g>
<g id="n12-27"><use href="#W" x="775.05" y="344.3"/></g>
<g id="n12-28"><use href="#W" x="803.3" y="344.3"/></g>
<g id="n12-29"><use href="#W" x="831.55" y="344.3"/></g>
<g id="n13-0"><use href="#G" x="12.3" y="372.55"/></g>
<g id="n13-1"><use href="#G" x="40.55" y="372.55"/></g>
<g id="n13-2"><use href="#G" x="68.8" y="372.55"/></g>
<g id="n13-3"><use href="#G" x="97.05" y="372.55"/></g>
<g id="n13-4"><use href="#C" x="125.3" y="372.55"/></g>
<g id="n13-5"><use href="#C" x="153.55" y="372.55"/></g>
<g id="n13-6"><use href="#C" x="181.8" y="372.55"/></g>
<g id="n13-7"><use href="#C" x="210.05" y="372.55"/></g>
<g id="n13-8"><use href="#C" x="238.3" y="372.55"/></g>
<g id="n13-9"><use href="#C" x="266.55" y="372.55"/></g>
<g id="n13-10"><use href="#C" x="294.8" y="372.55"/></g>
<g id="n13-11"><use href="#C" x="323.05" y="372.55"/></g>
<g id="n13-12"><use href="#C" x="351.3" y="372.55"/></g>
<g id="n13-13"><use href="#C" x="379.55" y="372.55"/></g>
<g id="n13-14"><use href="#C" x="407.8" y="372.55"/></g>
<g id="n13-15"><use href="#C" x="436.05" y="372.55"/></g>
<g id="n13-16"><use href="#C" x="464.3" y="372.55"/></g>
<g id="n13-17"><use href="#C" x="492.55" y="372.55"/></g>
<g id="n13-18"><use href="#C" x="520.8" y="372.55"/></g>
<g id="n13-19"><use href="#C" x="549.05" y="372.55"/></g>
<g id="n13-20"><use href="#C" x="577.3" y="372.55"/></g>
<g id="n13-21"><use href="#C" x="605.55" y="372.55"/></g>
<g id="n13-22"><use href="#C" x="633.8" y="372.55"/></g>
<g id="n13-23"><use href="#C" x="662.05" y="372.55"/></g>
<g id="n13-24"><use href="#G" x="690.3" y="372.55"/></g>
<g id="n13-25"><use href="#G" x="718.55" y="372.55"/></g>
<g id="n13-26"><use href="#G" x="746.8" y="372.55"/></g>
<g id="n13-27"><use href="#G" x="775.05" y="372.55"/></g>
<g id="n13-28"><use href="#G" x="803.3" y="372.55"/></g>
<g id="n13-29"><use href="#G" x="831.55" y="372.55"/></g>
<g id="n14-0"><use href="#G" x="12.3" y="400.8"/></g>
<g id="n14-1"><use href="#G" x="40.55" y="400.8"/></g>
<g id="n14-2"><use href="#G" x="68.8" y="400.8"/></g>
<g id="n14-3"><use href="#G" x="97.05" y="400.8"/></g>
<g id="n14-4"><use href="#C" x="125.3" y="400.8"/></g>
<g id="n14-5"><use href="#C" x="153.55" y="400.8"/></g>
<g id="n14-6"><use href="#C" x="181.8" y="400.8"/></g>
<g id="n14-7"><use href="#C" x="210.05" y="400.8"/></g>
<g id="n14-8"><use href="#C" x="238.3" y="400.8"/></g>
<g id="n14-9"><use href="#C" x="266.55" y="400.8"/></g>
<g id="n14-10"><use href="#C" x="294.8" y="400.8"/></g>
<g id="n14-11"><use href="#C" x="323.05" y="400.8"/></g>
<g id="n14-12"><use href="#C" x="351.3" y="400.8"/></g>
<g id="n14-13"><use href="#C" x="379.55" y="400.8"/></g>
<g id="n14-14"><use href="#C" x="407.8" y="400.8"/></g>
<g id="n14-15"><use href="#C" x="436.05" y="400.8"/></g>
<g id="n14-16"><use href="#C" x="464.3" y="400.8"/></g>
<g id="n14-17"><use href="#C" x="492.55" y="400.8"/></g>
<g id="n14-18"><use href="#C" x="520.8" y="400.8"/></g>
<g id="n14-19"><use href="#C" x="549.05" y="400.8"/></g>
<g id="n14-20"><use href="#C" x="577.3" y="400.8"/></g>
<g id="n14-21"><use href="#C" x="605.55" y="400.8"/></g>
<g id="n14-22"><use href="#C" x="633.8" y="400.8"/></g>
<g id="n14-23"><use href="#C" x="662.05" y="400.8"/></g>
<g id="n14-24"><use href="#G" x="690.3" y="400.8"/></g>
<g id="n14-25"><use href="#G" x="718.55" y="400.8"/></g>
<g id="n14-26"><use href="#G" x="746.8" y="400.8"/></g>
<g id="n14-27"><use href="#G" x="775.05" y="400.8"/></g>
<g id="n14-28"><use href="#G" x="803.3" y="400.8"/></g>
</g>
</svg>
